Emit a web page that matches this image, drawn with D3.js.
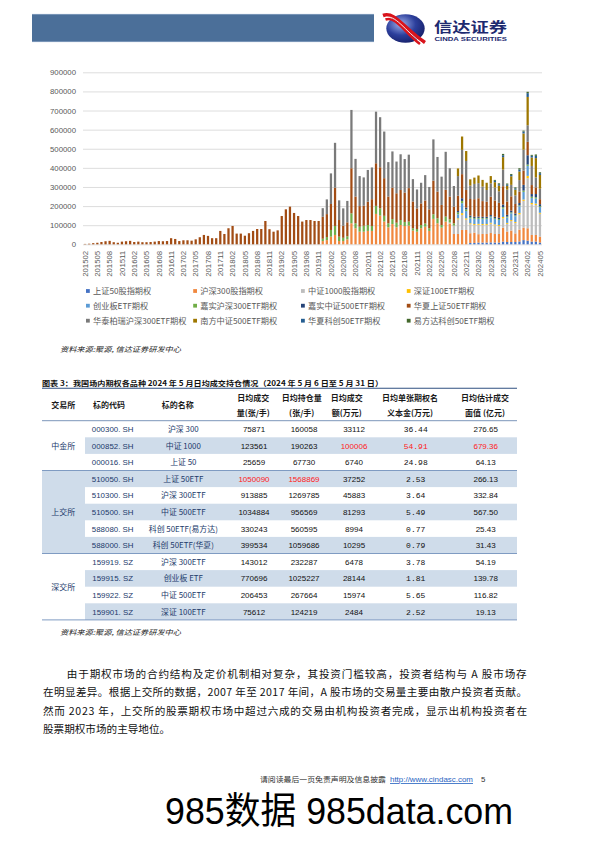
<!DOCTYPE html>
<html><head><meta charset="utf-8">
<script src="https://cdn.jsdelivr.net/npm/d3@7/dist/d3.min.js"></script>
<style>html,body{margin:0;padding:0;background:#fff;}svg{display:block;}</style>
</head><body>
<svg id="page" width="596" height="842" xmlns="http://www.w3.org/2000/svg"></svg>
<script>
// ================= DATA =================
const months = [
"201502","201503","201504","201505","201506","201507","201508","201509","201510","201511","201512",
"201601","201602","201603","201604","201605","201606","201607","201608","201609","201610","201611","201612",
"201701","201702","201703","201704","201705","201706","201707","201708","201709","201710","201711","201712",
"201801","201802","201803","201804","201805","201806","201807","201808","201809","201810","201811","201812",
"201901","201902","201903","201904","201905","201906","201907","201908","201909","201910","201911","201912",
"202001","202002","202003","202004","202005","202006","202007","202008","202009","202010","202011","202012",
"202101","202102","202103","202104","202105","202106","202107","202108","202109","202110","202111","202112",
"202201","202202","202203","202204","202205","202206","202207","202208","202209","202210","202211","202212",
"202301","202302","202303","202304","202305","202306","202307","202308","202309","202310","202311","202312",
"202401","202402","202403","202404","202405"];

const xTickLabels = ["201502","201505","201508","201511","201602","201605","201608","201611","201702","201705","201708","201711",
"201802","201805","201808","201811","201902","201905","201908","201911","202002","202005","202008","202011",
"202102","202105","202108","202111","202202","202205","202208","202211","202302","202305","202308","202311","202402","202405"];

const yTickValues = [0,100000,200000,300000,400000,500000,600000,700000,800000,900000];

const seriesNames = ["上证50股指期权","沪深300股指期权","中证1000股指期权","深证100ETF期权",
"创业板ETF期权","嘉实沪深300ETF期权","嘉实中证500ETF期权","华夏上证50ETF期权",
"华泰柏瑞沪深300ETF期权","南方中证500ETF期权","华夏科创50ETF期权","易方达科创50ETF期权"];

// first month each series appears in the chart
const seriesStarts = ["202212","201912","202207","202209","202209","201912","202209","201502","201912","202209","202306","202306"];

const sz50IndexOpt = [7000,7000,9000,9000,9000,10000,9000,9000,14000,12000,12000,12000,15000,22000,19000,14000,14000,9000];
const hs300IndexOpt = [17000,22000,40000,49000,17000,17000,26000,110000,84000,66000,
66000,70000,70000,159000,150000,119000,89000,106000,89000,101000,
96000,98000,72000,66000,84000,92000,70000,133000,110000,87000,
119000,109000,54000,54000,75000,75000,51000,54000,44000,45000,
45000,49000,45000,45000,73000,55000,60000,45000,62000,65000,
65000,35000,35000,31000];
const zz1000IndexOpt = [5000,44000,77000,79000,54000,47000,40000,49000,47000,47000,49000,45000,42000,49000,40000,50000,55000,80000,140000,262000,160000,157000,120000];
const sz100Etf = [5000,9000,7000,5000,5000,5000,5000,5000,5000,5000,5000,7000,5000,5000,5000,7000,7000,12000,7000,7000,5000];
const cybEtf = [21000,52000,38000,26000,26000,26000,26000,26000,28000,28000,26000,44000,28000,35000,30000,35000,40000,52000,26000,26000,30000];
const jsHs300Etf = [12000,16000,35000,47000,23000,17000,16000,52000,26000,26000,
31000,31000,26000,42000,38000,30000,21000,26000,24000,26000,
21000,21000,12000,14000,17000,17000,14000,24000,26000,14000,
26000,17000,12000,10000,12000,9000,7000,5000,5000,5000,
5000,5000,5000,5000,7000,5000,5000,5000,5000,7000,
7000,7000,7000,5000];
const jsZz500Etf = [7000,14000,9000,7000,7000,7000,7000,7000,7000,7000,7000,14000,9000,9000,9000,12000,30000,49000,14000,17000,10000];
const hxSz50Etf = [2000,3000,6000,8000,12000,16000,18000,11000,8000,14000,
16000,18000,12000,14000,11000,11000,12000,14000,17000,16000,
17000,32000,28000,17000,21000,21000,19000,26000,37000,49000,
44000,32000,32000,70000,54000,84000,96000,56000,56000,45000,
58000,70000,80000,80000,122000,79000,66000,73000,148000,183000,
197000,164000,148000,119000,127000,127000,122000,122000,
115000,120000,136000,200000,87000,63000,73000,236000,140000,108000,
105000,122000,140000,223000,215000,197000,140000,164000,154000,157000,
154000,175000,140000,108000,113000,120000,99000,176000,140000,105000,
140000,119000,87000,80000,126000,92000,87000,92000,96000,82000,
79000,96000,85000,78000,96000,70000,75000,50000,60000,75000,
70000,47000,35000,26000];
const htbrHs300Etf = [45000,77000,160000,235000,103000,91000,112000,305000,197000,157000,
148000,166000,166000,270000,262000,244000,180000,190000,166000,187000,
175000,175000,117000,99000,108000,133000,117000,216000,181000,148000,
199000,148000,108000,103000,127000,152000,70000,80000,79000,76000,
61000,70000,68000,60000,87000,62000,60000,45000,60000,109000,
87000,100000,52000,55000];
const nfZz500Etf = [40000,70000,52000,33000,33000,40000,35000,38000,38000,28000,30000,65000,20000,45000,30000,45000,85000,148000,44000,101000,72000];
const hxKc50Etf = [7000,7000,10000,7000,7000,7000,10000,10000,20000,9000,12000,9000];
const efdKc50Etf = [5000,5000,7000,5000,5000,5000,7000,5000,7000,5000,7000,5000];

const seriesValues = [sz50IndexOpt,hs300IndexOpt,zz1000IndexOpt,sz100Etf,cybEtf,jsHs300Etf,
  jsZz500Etf,hxSz50Etf,htbrHs300Etf,nfZz500Etf,hxKc50Etf,efdKc50Etf];

// ---- table data ----
const exchangeNames = ["中金所","上交所","深交所"];
const rowExchange = [0,0,0,1,1,1,1,1,2,2,2,2];
const codes = ["000300. SH","000852. SH","000016. SH","510050. SH","510300. SH","510500. SH","588080. SH","588000. SH","159919. SZ","159915. SZ","159922. SZ","159901. SZ"];
const underlyings = ["沪深 300","中证 1000","上证 50","上证 50ETF","沪深 300ETF","中证 500ETF","科创 50ETF(易方达)","科创 50ETF(华夏)","沪深 300ETF","创业板 ETF","中证 500ETF","深证 100ETF"];
const avgVolume = [75871,123561,25659,1050090,913885,1034884,330243,399534,143012,770696,206453,75612];
const avgOpenInterest = [160058,190263,67730,1568869,1269785,956569,560595,1059686,232287,1025227,267664,124219];
const avgTurnover = [33112,100006,6740,37252,45883,81293,8994,10295,6478,28144,15974,2484];
const avgNotionalPerContract = [36.44,54.91,24.98,2.53,3.64,5.49,0.77,0.79,3.78,1.81,5.65,2.52];
const avgFaceValue = [276.65,679.36,64.13,266.13,332.84,567.50,25.43,31.43,54.19,139.78,116.82,19.13];
const headerLine1 = ["","","","日均成交","日均持仓量","日均成交","日均单张期权名","日均估计成交"];
const headerLine2 = ["","","","量(张/手)","(张/手)","额(万元)","义本金(万元)","面值 (亿元)"];
const headerSingle = ["交易所","标的代码","标的名称"];

// ================= STYLE =================
const palette = ["#4472C4","#F0883F","#BDBDBD","#FFC000","#5B9BD5","#70AD47","#264478","#A24C14","#7A7A7A","#9E7700","#255E91","#43682B"];
const CJK = '"Noto Sans CJK SC", "Noto Sans", sans-serif';
const LAT = '"Liberation Sans", Arial, sans-serif';
const NAVY = "#223a6b";

const svg = d3.select("#page");

// ---------- page header ----------
svg.append("rect").attr("x",32).attr("y",14).attr("width",342).attr("height",28).attr("fill","#4b6f99");
svg.append("line").attr("x1",32).attr("x2",374).attr("y1",14.3).attr("y2",14.3).attr("stroke","#a9bdd6").attr("stroke-width",0.6);
svg.append("line").attr("x1",32).attr("x2",374).attr("y1",41.7).attr("y2",41.7).attr("stroke","#a9bdd6").attr("stroke-width",0.6);
const defs = svg.append("defs");
const rg = defs.append("radialGradient").attr("id","logoGrad").attr("cx","38%").attr("cy","35%").attr("r","70%");
rg.append("stop").attr("offset","0%").attr("stop-color","#9fb0ea");
rg.append("stop").attr("offset","55%").attr("stop-color","#2c3f9c");
rg.append("stop").attr("offset","100%").attr("stop-color","#161f68");
svg.append("ellipse").attr("cx",405.5).attr("cy",28.5).attr("rx",19.2).attr("ry",14.3).attr("fill","url(#logoGrad)");
svg.append("path").attr("d","M383,15.5 C395,11 404,29 425,42.5").attr("fill","none").attr("stroke","#d9141c").attr("stroke-width",3.6);
svg.append("path").attr("d","M385.5,19.5 C396,15.5 405,33 420,44").attr("fill","none").attr("stroke","#d9141c").attr("stroke-width",2.6);
svg.append("path").attr("d","M384,17.6 C395.5,13.3 404.5,31 422.5,43.3").attr("fill","none").attr("stroke","#ffffff").attr("stroke-width",0.9);
svg.append("text").attr("x",434).attr("y",31.5).attr("font-family",CJK).attr("font-weight","bold").attr("font-size",14)
  .attr("fill","#1d2a70").attr("textLength",73).attr("lengthAdjust","spacingAndGlyphs").text("信达证券");
svg.append("text").attr("x",434.5).attr("y",40.6).attr("font-family",LAT).attr("font-weight","bold").attr("font-size",5)
  .attr("fill","#1d2a70").attr("textLength",72.5).attr("lengthAdjust","spacingAndGlyphs").text("CINDA SECURITIES");

// ---------- chart ----------
const rows = months.map((m,i)=>{
  const r = {month:m};
  seriesNames.forEach((n,k)=>{
    const s = months.indexOf(seriesStarts[k]);
    r[n] = i>=s ? (seriesValues[k][i-s] || 0) : 0;
  });
  return r;
});

const x = d3.scaleBand().domain(months).range([83,542]).paddingInner(0.45).paddingOuter(0.225);
const y = d3.scaleLinear().domain([0,900000]).range([244.3,72.3]);

const yAxis = svg.append("g").attr("transform","translate(83,0)")
  .call(d3.axisLeft(y).tickValues(yTickValues).tickSize(-459).tickPadding(7).tickFormat(d3.format("d")));
yAxis.select(".domain").remove();
yAxis.attr("font-family",LAT).attr("font-size",7.8);
yAxis.selectAll(".tick line").attr("stroke","#d9d9d9").attr("stroke-width",0.9);
yAxis.selectAll(".tick text").attr("fill","#595959");

const stacked = d3.stack().keys(seriesNames)(rows);
svg.append("g").selectAll("g").data(stacked).join("g").attr("fill",(d,i)=>palette[i])
  .selectAll("rect").data(d=>d.filter(p=>p[1]>p[0])).join("rect")
  .attr("x",p=>x(p.data.month)).attr("width",x.bandwidth())
  .attr("y",p=>y(p[1])).attr("height",p=>y(p[0])-y(p[1]));

const xAxis = svg.append("g").attr("transform","translate(0,244.3)")
  .call(d3.axisBottom(x).tickValues(xTickLabels).tickSize(0).tickPadding(0));
xAxis.select(".domain").remove();
xAxis.attr("font-family",LAT).attr("font-size",7.8);
xAxis.selectAll(".tick text").attr("fill","#595959").attr("transform","rotate(-90)")
  .attr("x",-6.5).attr("y",0).attr("dy","0.35em").attr("text-anchor","end");

// legend
const legX = [86,193.2,301,406.8];
const legY = [291,305.7,320.7];
const leg = svg.append("g").attr("font-family",CJK).attr("font-size",8.2).attr("fill","#595959");
seriesNames.forEach((n,i)=>{
  const cx = legX[i%4], cy = legY[Math.floor(i/4)];
  leg.append("rect").attr("x",cx).attr("y",cy-1.9).attr("width",3.8).attr("height",3.8).attr("fill",palette[i]);
  leg.append("text").attr("x",cx+7).attr("y",cy+2.9).text(n);
});

// sources
function source(yy){
  svg.append("text").attr("x",60).attr("y",yy).attr("font-family",CJK).attr("font-size",7.1)
    .attr("font-style","italic").attr("fill","#222").attr("textLength",121).attr("lengthAdjust","spacingAndGlyphs")
    .text("资料来源:聚源, 信达证券研发中心");
}
source(351.8);

// ---------- table ----------
svg.append("text").attr("x",42).attr("y",385.6).attr("font-family",CJK).attr("font-size",7.4).attr("font-weight","bold")
  .attr("fill","#111").attr("textLength",341).attr("lengthAdjust","spacingAndGlyphs")
  .text("图表 3：我国场内期权各品种 2024 年 5 月日均成交持仓情况（2024 年 5 月 6 日至 5 月 31 日）");

const tL = 42, tR = 517, headTop = 388.3, headBot = 420.7, rowH = 16.6;
const rowY = r => headBot + r*rowH;

// shading
for (let r=0;r<12;r++){
  if (r%2===1) svg.append("rect").attr("x",85).attr("y",rowY(r)).attr("width",tR-85).attr("height",rowH).attr("fill","#cfdcea");
}
svg.append("rect").attr("x",tL).attr("y",rowY(3)).attr("width",85-tL).attr("height",rowH*5).attr("fill","#cfdcea");

// lines
svg.append("line").attr("x1",tL).attr("x2",tR).attr("y1",headTop).attr("y2",headTop).attr("stroke","#2f4f80").attr("stroke-width",1.1);
svg.append("line").attr("x1",tL).attr("x2",tR).attr("y1",headBot).attr("y2",headBot).attr("stroke","#6e8bb3").attr("stroke-width",0.9);
[3,8,12].forEach(r=>{
  svg.append("line").attr("x1",tL).attr("x2",tR).attr("y1",rowY(r)).attr("y2",rowY(r)).attr("stroke","#7f9bc2").attr("stroke-width",1);
});

// header text
const headX = [63.3,109,177.7,253.3,301.7,346.7,410,485];
const hd = svg.append("g").attr("font-family",CJK).attr("font-size",8).attr("font-weight","bold").attr("fill","#1a1a1a").attr("text-anchor","middle");
headerSingle.forEach((t,i)=> hd.append("text").attr("x",headX[i]).attr("y",407.8).text(t));
headerLine1.forEach((t,i)=>{ if(t) hd.append("text").attr("x",headX[i]).attr("y",400.5).text(t); });
headerLine2.forEach((t,i)=>{ if(t) hd.append("text").attr("x",headX[i]).attr("y",415.6).text(t); });

// exchange labels
const exMid = [1, 5, 9.5];
exchangeNames.forEach((t,i)=>{
  svg.append("text").attr("x",63.3).attr("y",rowY(exMid[i])+rowH/2+2.9).attr("font-family",CJK).attr("font-size",8)
    .attr("fill",NAVY).attr("text-anchor","middle").text(t);
});

const maxVol = d3.max(avgVolume), maxOI = d3.max(avgOpenInterest), maxTo = d3.max(avgTurnover),
      maxNot = d3.max(avgNotionalPerContract), maxFace = d3.max(avgFaceValue);
const colX = {code:112.7,name:183.3,vol:254,oi:304,to:354,not:415.7,face:485.7};
const RED = "#ff1a1a";
codes.forEach((c,r)=>{
  const by = rowY(r)+rowH/2+2.9;
  svg.append("text").attr("x",colX.code).attr("y",by).attr("font-family",LAT).attr("font-size",7.9).attr("fill",NAVY).attr("text-anchor","middle").text(c);
  svg.append("text").attr("x",colX.name).attr("y",by).attr("font-family",CJK).attr("font-size",7.9).attr("fill",NAVY).attr("text-anchor","middle").text(underlyings[r]);
  const num = (xx,isMax,fam,txt)=> svg.append("text").attr("x",xx).attr("y",by).attr("font-family",fam).attr("font-size",8)
      .attr("fill",isMax?RED:"#111").attr("text-anchor","middle").text(txt);
  num(colX.vol, avgVolume[r]===maxVol, LAT, avgVolume[r]);
  num(colX.oi, avgOpenInterest[r]===maxOI, LAT, avgOpenInterest[r]);
  num(colX.to, avgTurnover[r]===maxTo, LAT, avgTurnover[r]);
  num(colX.not, avgNotionalPerContract[r]===maxNot, '"Liberation Mono", monospace', d3.format(".2f")(avgNotionalPerContract[r]));
  num(colX.face, avgFaceValue[r]===maxFace, LAT, d3.format(".2f")(avgFaceValue[r]));
});

source(635);

// ---------- paragraph ----------
const paraLines = [
 "由于期权市场的合约结构及定价机制相对复杂，其投资门槛较高，投资者结构与 A 股市场存",
 "在明显差异。根据上交所的数据，2007 年至 2017 年间，A 股市场的交易量主要由散户投资者贡献。",
 "然而 2023 年，上交所的股票期权市场中超过六成的交易由机构投资者完成，显示出机构投资者在",
 "股票期权市场的主导地位。"];
const paraX = [66.7,43,43,43], paraW = [460,484,484,null], paraY = [677.5,696,714.5,733];
paraLines.forEach((t,i)=>{
  const tx = svg.append("text").attr("x",paraX[i]).attr("y",paraY[i]).attr("font-family",CJK).attr("font-size",10.6).attr("fill","#111").text(t);
  if (paraW[i]) tx.attr("textLength",paraW[i]).attr("lengthAdjust","spacing");
});

// ---------- footer ----------
svg.append("text").attr("x",260).attr("y",781.8).attr("font-family",CJK).attr("font-size",7.4).attr("fill","#333")
  .attr("textLength",126).attr("lengthAdjust","spacingAndGlyphs").text("请阅读最后一页免责声明及信息披露");
svg.append("text").attr("x",390).attr("y",782).attr("font-family",LAT).attr("font-size",7.9).attr("fill","#1f5fbf")
  .attr("text-decoration","underline").attr("textLength",83).attr("lengthAdjust","spacingAndGlyphs").text("http://www.cindasc.com");
svg.append("text").attr("x",481).attr("y",782).attr("font-family",LAT).attr("font-size",7.9).attr("fill","#333").text("5");

svg.append("text").attr("x",165).attr("y",824).attr("font-family",'"Liberation Sans", "Noto Sans CJK SC", sans-serif')
  .attr("font-size",37).attr("fill","#000").attr("textLength",348).attr("lengthAdjust","spacingAndGlyphs").text("985数据 985data.com");
</script>
</body></html>
